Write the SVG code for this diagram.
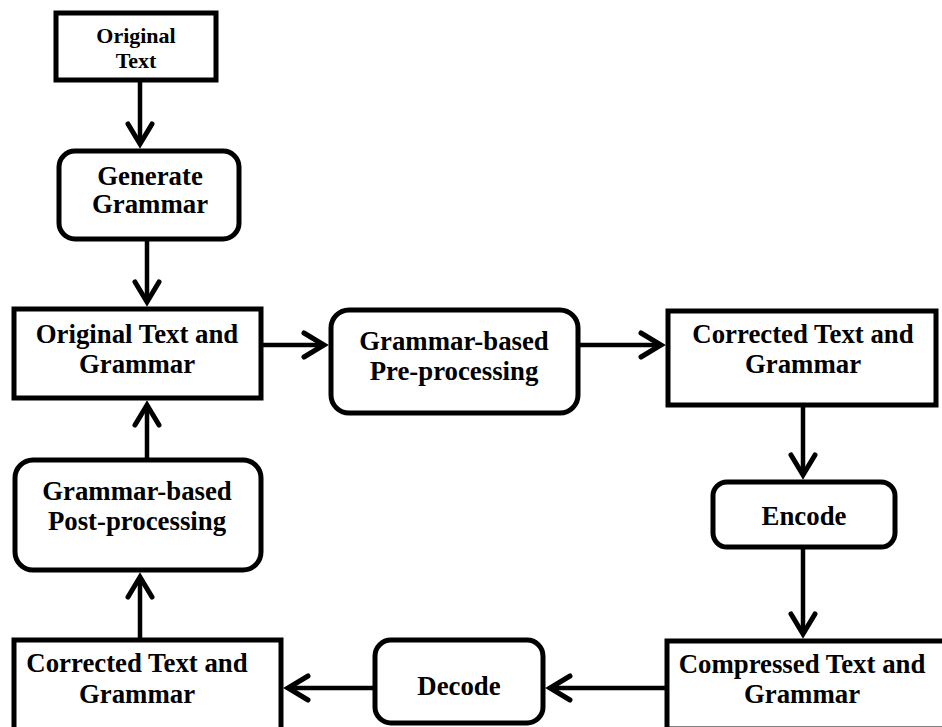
<svg xmlns="http://www.w3.org/2000/svg" width="942" height="727" viewBox="0 0 942 727">
<style>
.box{fill:#fff;stroke:#000;stroke-width:5}
.t{font-family:"Liberation Serif","Times New Roman",serif;font-weight:bold;font-size:26.8px;fill:#000;text-anchor:middle}
.s{font-size:22px}
.c{stroke:#000;stroke-width:4.5;fill:none}
</style>
<defs>
<marker id="ah" markerUnits="userSpaceOnUse" viewBox="-30 -16 36 32" markerWidth="36" markerHeight="32" refX="0" refY="0" orient="auto" overflow="visible">
<path d="M-20,-12 L0,0 L-20,12" fill="none" stroke="#000" stroke-width="5" stroke-linecap="round" stroke-linejoin="miter"/>
</marker>
</defs>
<rect width="942" height="727" fill="#fff"/>
<g id="connectors">
<line class="c" x1="140" y1="82" x2="140" y2="144" marker-end="url(#ah)"/>
<line class="c" x1="147" y1="241" x2="147" y2="302" marker-end="url(#ah)"/>
<line class="c" x1="263" y1="345" x2="324" y2="345" marker-end="url(#ah)"/>
<line class="c" x1="580" y1="345" x2="661" y2="345" marker-end="url(#ah)"/>
<line class="c" x1="803" y1="394" x2="803" y2="475" marker-end="url(#ah)"/>
<line class="c" x1="803" y1="549" x2="803" y2="634" marker-end="url(#ah)"/>
<line class="c" x1="665" y1="688" x2="550" y2="688" marker-end="url(#ah)"/>
<line class="c" x1="373" y1="688" x2="288" y2="688" marker-end="url(#ah)"/>
<line class="c" x1="140" y1="638" x2="140" y2="577" marker-end="url(#ah)"/>
<line class="c" x1="147" y1="458" x2="147" y2="405" marker-end="url(#ah)"/>
</g>
<g id="original-text">
<rect class="box" x="56" y="13" width="160" height="67"/>
<text class="t s" x="136" y="43">Original</text>
<text class="t s" x="136" y="68">Text</text>
</g>
<g id="generate-grammar">
<rect class="box" x="59" y="151" width="180" height="88" rx="16"/>
<text class="t" x="150" y="185">Generate</text>
<text class="t" x="150" y="213">Grammar</text>
</g>
<g id="original-text-grammar">
<rect class="box" x="14" y="309" width="247" height="89"/>
<text class="t" x="137" y="343">Original Text and</text>
<text class="t" x="137" y="373">Grammar</text>
</g>
<g id="pre-processing">
<rect class="box" x="331" y="310" width="247" height="103" rx="18"/>
<text class="t" x="454" y="350">Grammar-based</text>
<text class="t" x="454" y="380">Pre-processing</text>
</g>
<g id="corrected-top">
<rect class="box" x="668" y="311" width="268" height="94"/>
<text class="t" x="803" y="343">Corrected Text and</text>
<text class="t" x="803" y="373">Grammar</text>
</g>
<g id="encode">
<rect class="box" x="713" y="482" width="182" height="65" rx="14"/>
<text class="t" x="804" y="525">Encode</text>
</g>
<g id="compressed">
<rect class="box" x="667" y="641" width="290" height="88"/>
<text class="t" x="802" y="673">Compressed Text and</text>
<text class="t" x="802" y="703">Grammar</text>
</g>
<g id="decode">
<rect class="box" x="375" y="640" width="168" height="83" rx="16"/>
<text class="t" x="459" y="695">Decode</text>
</g>
<g id="corrected-bottom">
<rect class="box" x="14" y="640" width="267" height="92"/>
<text class="t" x="137" y="672">Corrected Text and</text>
<text class="t" x="137" y="703">Grammar</text>
</g>
<g id="post-processing">
<rect class="box" x="15" y="460" width="246" height="110" rx="18"/>
<text class="t" x="137" y="500">Grammar-based</text>
<text class="t" x="137" y="530">Post-processing</text>
</g>
</svg>
